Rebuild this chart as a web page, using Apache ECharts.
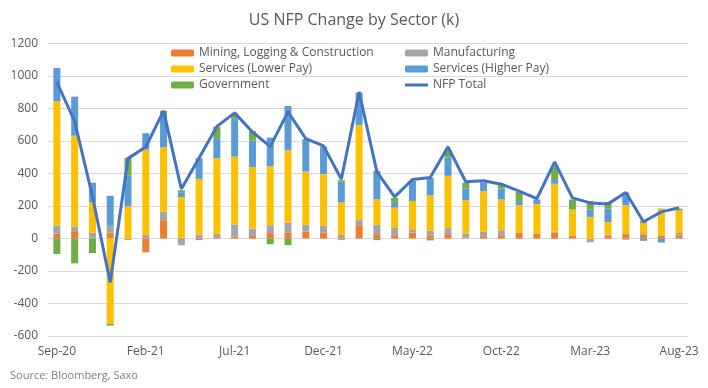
<!DOCTYPE html>
<html>
<head>
<meta charset="utf-8">
<script src="https://cdn.jsdelivr.net/npm/echarts@6/dist/echarts.min.js"></script>
<style>
html,body{margin:0;padding:0;background:#fff;}
#chart{width:708px;height:388px;}
</style>
</head>
<body>
<div id="chart"></div>
<script>
const months = ['Sep-20','Oct-20','Nov-20','Dec-20','Jan-21','Feb-21','Mar-21','Apr-21','May-21','Jun-21','Jul-21','Aug-21','Sep-21','Oct-21','Nov-21','Dec-21','Jan-22','Feb-22','Mar-22','Apr-22','May-22','Jun-22','Jul-22','Aug-22','Sep-22','Oct-22','Nov-22','Dec-22','Jan-23','Feb-23','Mar-23','Apr-23','May-23','Jun-23','Jul-23','Aug-23'];
const mining = [30,45,5,37,0,-85,113,5,-10,8,12,16,33,37,43,35,-8,82,27,20,37,20,27,6,14,20,37,31,37,16,-8,20,27,25,16,20];
const manufacturing = [50,28,30,41,-10,22,51,-42,25,20,74,45,49,61,41,43,22,31,57,45,20,27,37,25,27,31,0,0,5,0,-15,6,-8,8,0,14];
const lowerPay = [765,560,189,-524,199,525,396,250,342,467,418,379,363,445,328,318,200,586,158,125,174,219,322,205,250,189,168,180,295,162,133,76,178,64,164,139];
const higherPay = [205,240,119,185,190,96,199,30,127,123,232,164,176,272,199,160,127,199,174,29,123,108,113,72,53,68,20,29,23,0,45,82,62,-14,-25,0];
const government = [-95,-153,-90,-12,107,5,27,12,0,70,31,57,-35,-41,0,10,10,0,-10,31,0,-12,45,35,0,20,62,0,86,62,52,41,16,14,4,10];
const nfpTotal = [963,720,260,-270,493,563,785,305,495,690,773,656,565,779,615,570,365,902,410,256,363,375,564,349,355,334,291,246,472,250,219,213,283,103,164,189];
const yTicks = [-600,-400,-200,0,200,400,600,800,1000,1200];

const FONT = 'Open Sans';
const chart = echarts.init(document.getElementById('chart'));
const barCommon = {type:'bar', stack:'s', barWidth:7};
const legendText = {fontFamily:FONT, fontSize:12, color:'#595959', lineHeight:14};
chart.setOption({
  animation:false,
  textStyle:{fontFamily:FONT},
  title:{text:'US NFP Change by Sector (k)', left:'center', top:7,
    textStyle:{fontFamily:FONT, fontSize:16, fontWeight:'normal', color:'#595959'}},
  legend:[
    {data:['Mining, Logging & Construction','Services (Lower Pay)','Government'],
     orient:'vertical', left:166, top:41, itemWidth:23, itemHeight:7, itemGap:2, textStyle:legendText},
    {data:['Manufacturing','Services (Higher Pay)',{name:'NFP Total', icon:'path://M0,0H23V3H0Z'}],
     orient:'vertical', left:400, top:41, itemWidth:23, itemHeight:7, itemGap:2, textStyle:legendText}
  ],
  graphic:[{type:'text', left:10, top:370, style:{text:'Source: Bloomberg, Saxo', fontFamily:FONT, fontSize:11, fill:'#7f7f7f'}}],
  grid:{left:48, right:20, top:43.5, bottom:52},
  xAxis:{type:'category', data:months,
    axisLine:{show:false}, axisTick:{show:false},
    axisLabel:{interval:4, color:'#595959', fontSize:12, margin:10, fontFamily:FONT}},
  yAxis:{type:'value', min:yTicks[0], max:yTicks[yTicks.length-1], interval:200,
    axisLine:{show:false}, axisTick:{show:false},
    axisLabel:{color:'#595959', fontSize:12, margin:10, fontFamily:FONT, formatter:function(v){return String(v);}},
    splitLine:{lineStyle:{color:'#D9D9D9', width:1}}},
  series:[
    Object.assign({name:'Mining, Logging & Construction', data:mining, itemStyle:{color:'#ED7D31'}}, barCommon),
    Object.assign({name:'Manufacturing', data:manufacturing, itemStyle:{color:'#A5A5A5'}}, barCommon),
    Object.assign({name:'Services (Lower Pay)', data:lowerPay, itemStyle:{color:'#FFC000'}}, barCommon),
    Object.assign({name:'Services (Higher Pay)', data:higherPay, itemStyle:{color:'#5B9BD5'}}, barCommon),
    Object.assign({name:'Government', data:government, itemStyle:{color:'#70AD47'}}, barCommon),
    {name:'NFP Total', type:'line', data:nfpTotal, symbol:'none', z:10,
     lineStyle:{color:'#4472C4', width:3}, itemStyle:{color:'#4472C4'}}
  ]
});
</script>
</body>
</html>
